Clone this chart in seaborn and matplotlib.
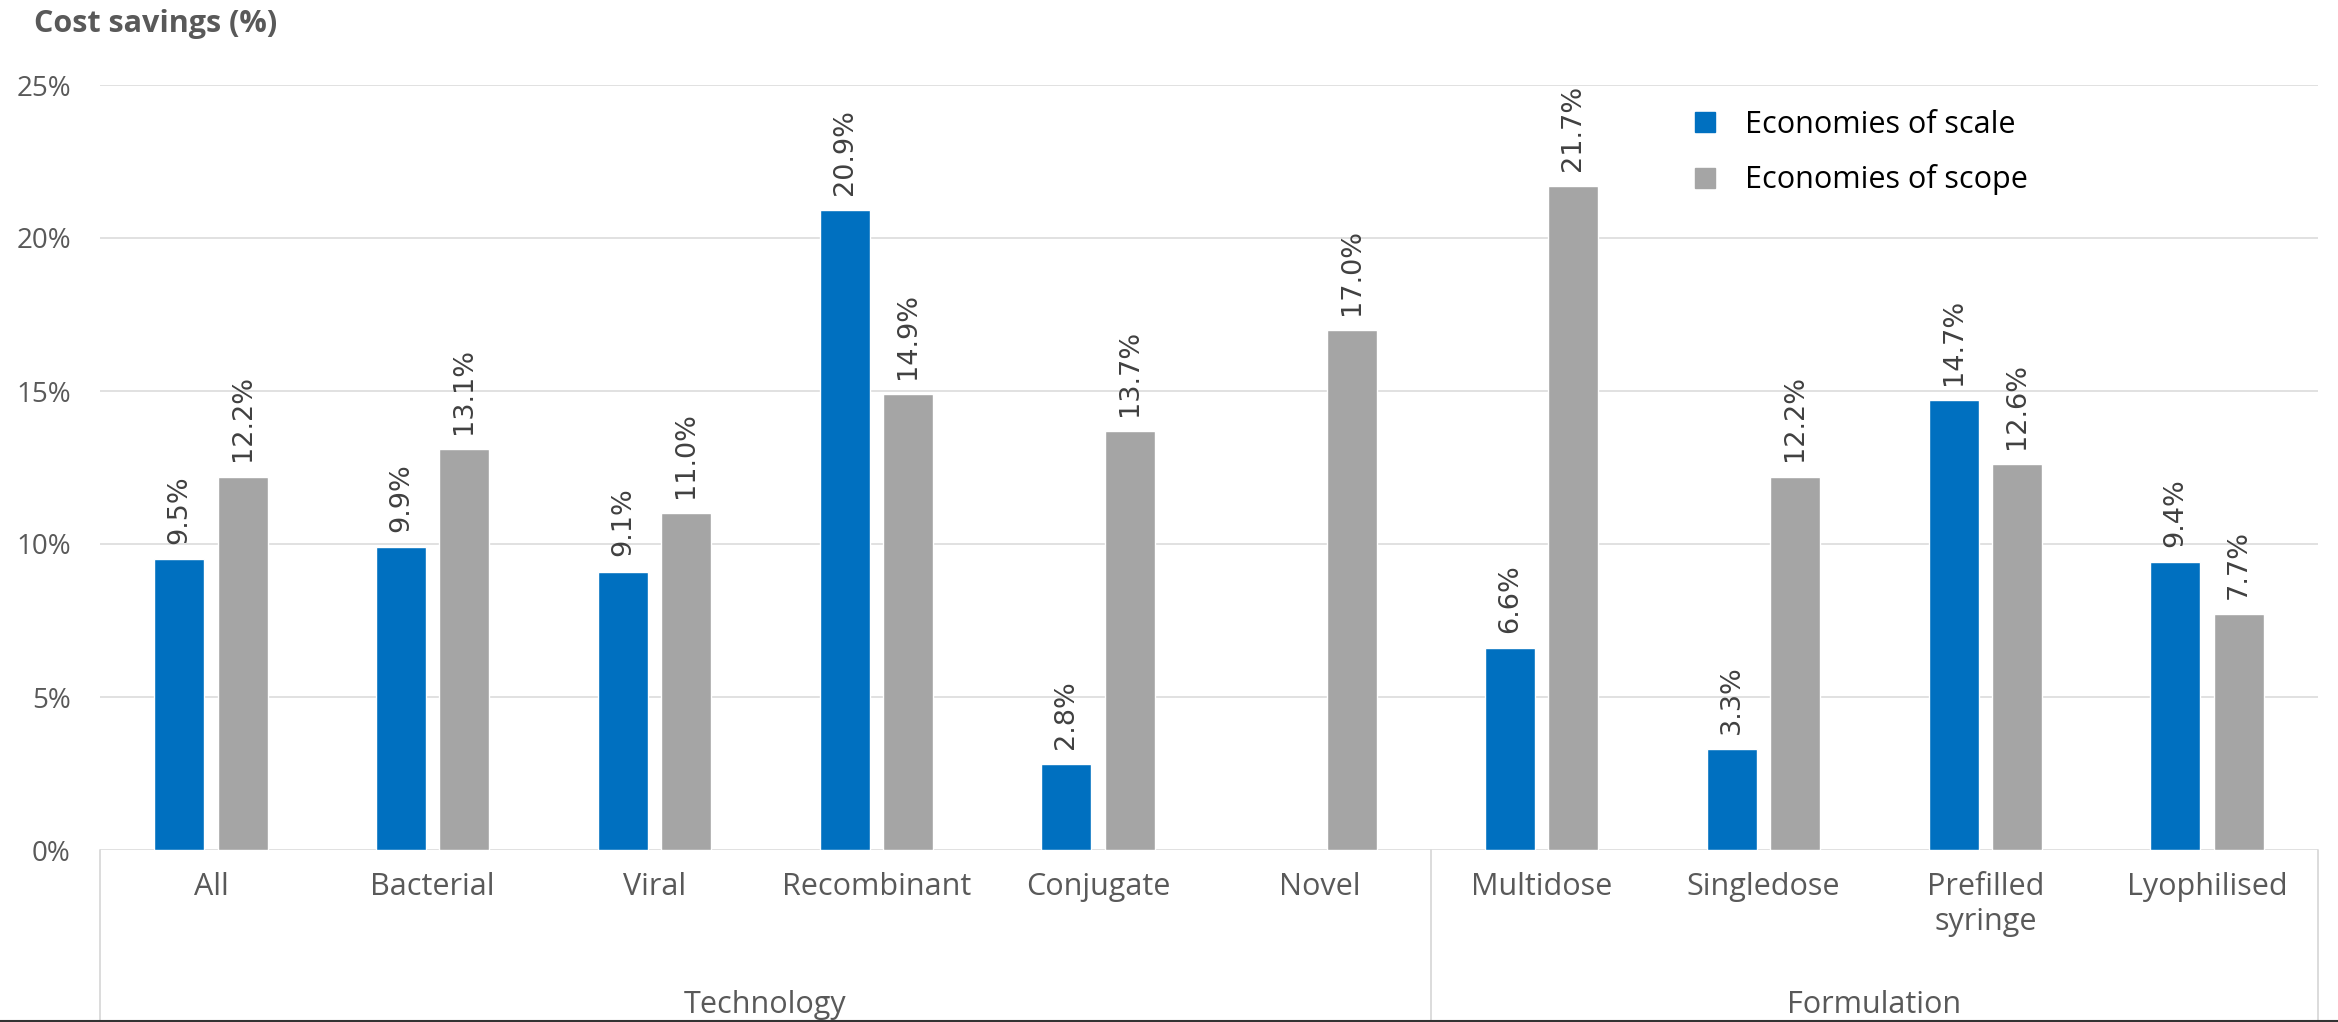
import matplotlib
matplotlib.use("Agg")
import matplotlib.pyplot as plt
import seaborn as sns
import pandas as pd
import numpy as np
from matplotlib.lines import Line2D

# ---- data ----
categories = ["All", "Bacterial", "Viral", "Recombinant", "Conjugate", "Novel",
              "Multidose", "Singledose", "Prefilled\nsyringe", "Lyophilised"]
scale_values = [9.5, 9.9, 9.1, 20.9, 2.8, np.nan, 6.6, 3.3, 14.7, 9.4]
scope_values = [12.2, 13.1, 11.0, 14.9, 13.7, 17.0, 21.7, 12.2, 12.6, 7.7]
series_names = ["Economies of scale", "Economies of scope"]
groups = ["Technology", "Formulation"]
group_sizes = [6, 4]
y_ticks = [0, 5, 10, 15, 20, 25]
y_tick_labels = ["0%", "5%", "10%", "15%", "20%", "25%"]
title_text = "Cost savings (%)"

BLUE = "#0070C0"
GRAY = "#A5A5A5"
TXT = "#595959"
GRID = "#D9D9D9"

sns.set_style("white")
plt.rcParams["font.family"] = ["Open Sans", "DejaVu Sans"]

df = pd.DataFrame({
    "category": categories * 2,
    "value": scale_values + scope_values,
    "series": [series_names[0]] * len(categories) + [series_names[1]] * len(categories),
})

W, H = 2338, 1022
fig = plt.figure(figsize=(W / 100, H / 100), dpi=100)
ax_left, ax_right = 100 / W, 2318 / W
ax_bottom, ax_top = 1 - 850 / H, 1 - 85 / H
ax = fig.add_axes([ax_left, ax_bottom, ax_right - ax_left, ax_top - ax_bottom])

sns.barplot(data=df, x="category", y="value", hue="series", order=categories,
            hue_order=series_names, palette=[BLUE, GRAY], saturation=1,
            width=0.572, gap=0.212, errorbar=None, legend=False, ax=ax, zorder=3)

ax.set_xlim(-0.5, len(categories) - 0.5)
ax.set_ylim(0, 25)
ax.set_yticks(y_ticks)
ax.set_yticklabels(y_tick_labels)
ax.yaxis.grid(True, color=GRID, linewidth=1.1, zorder=0)
ax.xaxis.grid(False)
ax.set_axisbelow(True)
for s in ax.spines.values():
    s.set_visible(False)
ax.set_xlabel("")
ax.set_ylabel("")
ax.tick_params(axis="y", length=0, pad=21, labelsize=20, labelcolor=TXT)
ax.tick_params(axis="x", length=0, pad=16, labelsize=22, labelcolor=TXT)
ax.set_xticks(range(len(categories)))
ax.set_xticklabels(categories, linespacing=1.2, va="top")

# data labels
for cont in ax.containers:
    labels = [f"{v:.1f}%" for v in cont.datavalues]
    ax.bar_label(cont, labels=labels, rotation=90, padding=11, fontsize=19.5,
                 color="#404040", family="DejaVu Sans")

# group box lines below the axis
trans = ax.get_xaxis_transform()
bottom_y = -(H - 850) / (850 - 85)
edges = [-0.5]
pos = -0.5
for n in group_sizes:
    pos += n
    edges.append(pos)
for e in edges:
    ax.plot([e, e], [0, bottom_y], transform=trans, color=GRID, lw=1.3, clip_on=False)

# group labels
start = -0.5
for g, n in zip(groups, group_sizes):
    ax.text(start + n / 2, -(1005 - 850) / (850 - 85), g, transform=trans,
            ha="center", va="center", fontsize=22, color=TXT)
    start += n

# bottom border line
fig.add_artist(Line2D([0, 1], [1.5 / H, 1.5 / H], transform=fig.transFigure,
                      color="#333333", lw=1.5))

# title
fig.text(34 / W, 1 - 24 / H, title_text, ha="left", va="center",
         fontsize=22, fontweight="bold", color=TXT)

# legend
handles = [Line2D([], [], marker="s", linestyle="none", markersize=15,
                  markerfacecolor=c, markeredgecolor=c) for c in [BLUE, GRAY]]
fig.legend(handles, series_names, loc="upper left",
           bbox_to_anchor=(1693 / W, 1 - 110 / H), frameon=False, fontsize=22,
           handlelength=0.8, handletextpad=0.9, labelspacing=0.8,
           borderpad=0, borderaxespad=0, labelcolor="black")

fig.savefig("out.png", dpi=100)
